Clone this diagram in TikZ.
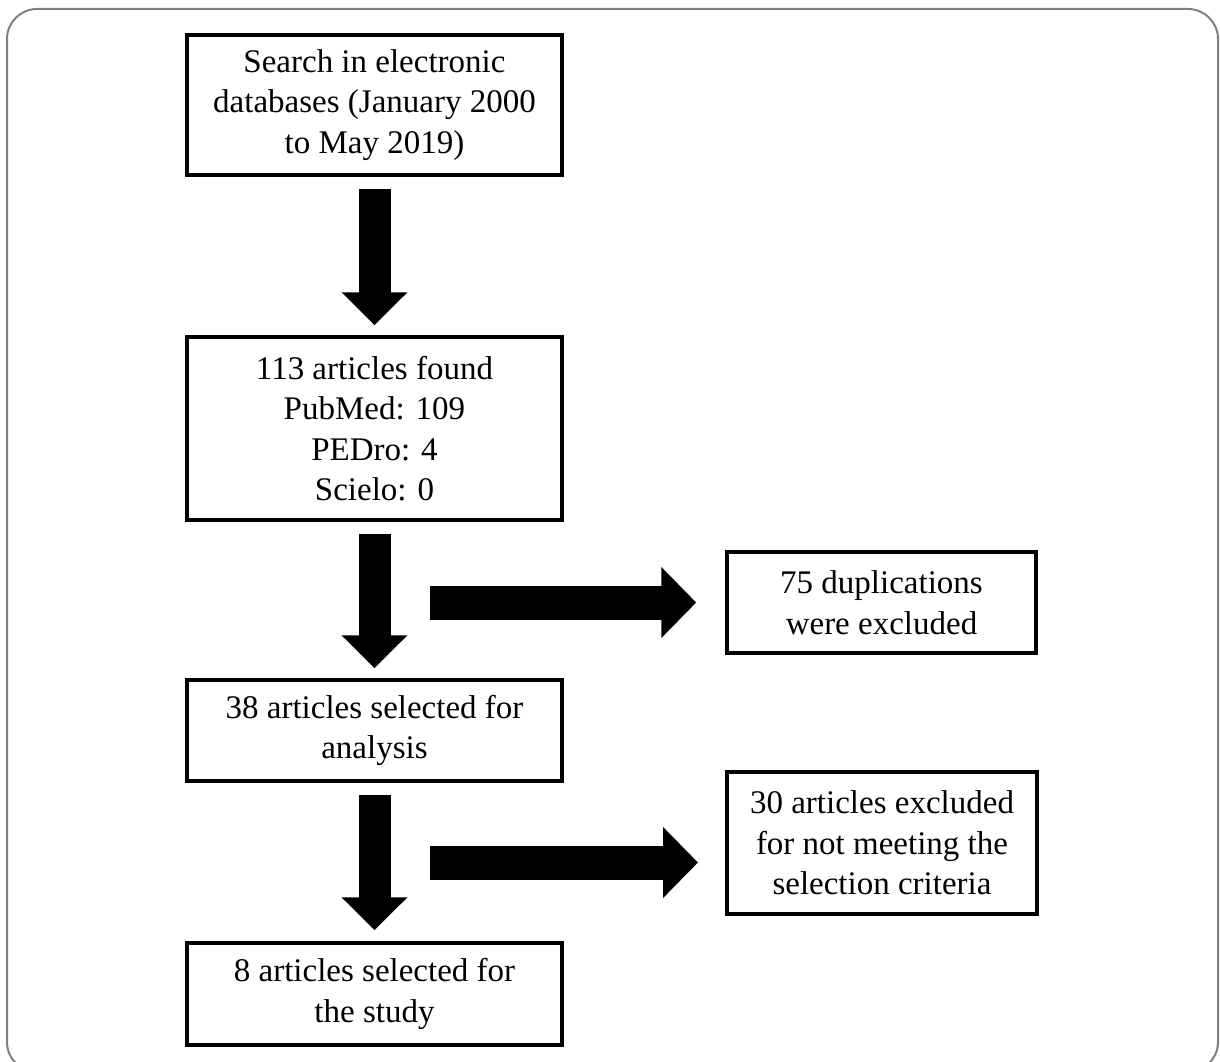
\documentclass[tikz,border=0pt]{standalone}
\usepackage{fontspec}
\setmainfont{Liberation Serif}
\usetikzlibrary{arrows.meta,calc}
\begin{document}
\begin{tikzpicture}[x=1pt,y=-1pt,
  box/.style={draw=black, line width=3.5pt, fill=white, inner sep=0pt, align=center,
    font=\fontsize{33}{40.5}\selectfont},
  vbar/.style={line width=32pt, -{Triangle[width=64pt,length=33pt]}},
  hbar/.style={line width=34pt, -{Triangle[width=69pt,length=35pt]}},
]
\useasboundingbox (0,0) rectangle (1220,1062);
\begin{scope}
  \clip (0,0) rectangle (1220,1062);
  \draw[draw=black!50, line width=2pt, rounded corners=30pt] (7,9) rectangle (1218,1072);
\end{scope}

\node[box, minimum width=375pt, minimum height=140pt] (b1) at (374.5,105)
  {Search in electronic\\databases (January 2000\\to May 2019)};
\node[box, minimum width=375pt, minimum height=183pt] (b2) at (374.5,428.5)
  {113 articles found\\PubMed: 109\\PEDro: 4\\Scielo: 0};
\node[box, minimum width=309pt, minimum height=101pt] (b3) at (881.5,602.5)
  {75 duplications\\were excluded};
\node[box, minimum width=375pt, minimum height=101pt] (b4) at (374.5,730.5)
  {38 articles selected for\\analysis};
\node[box, minimum width=310pt, minimum height=142pt] (b5) at (882,843)
  {30 articles excluded\\for not meeting the\\selection criteria};
\node[box, minimum width=375pt, minimum height=102pt] (b6) at (374.5,994)
  {8 articles selected for\\the study};

\coordinate (s1) at (430,602.5);
\coordinate (s2) at (430,862.5);
\coordinate (e2) at (698,862.5);

\draw[vbar] ($(b1.south)+(0,12)$) -- ($(b2.north)+(0,-10)$);
\draw[vbar] ($(b2.south)+(0,12)$) -- ($(b4.north)+(0,-10)$);
\draw[vbar] ($(b4.south)+(0,12)$) -- ($(b6.north)+(0,-11)$);
\draw[hbar] (s1) -- ($(b3.west)+(-29,0)$);
\draw[hbar] (s2) -- (e2);
\end{tikzpicture}
\end{document}
